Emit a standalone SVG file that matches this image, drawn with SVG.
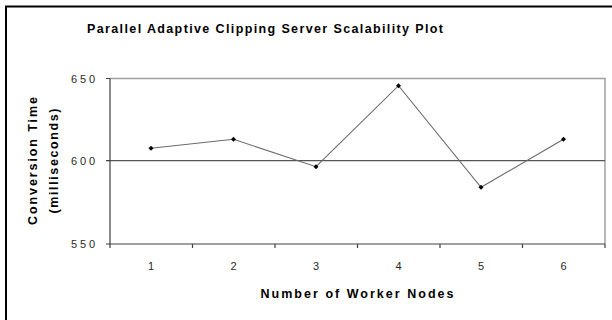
<svg xmlns="http://www.w3.org/2000/svg" width="612" height="320" viewBox="0 0 612 320">
  <style>
    .title { font-family: "Liberation Sans", Arial, sans-serif; font-weight: bold; font-size: 12.5px; fill: #000; }
    .tick { font-family: "Liberation Sans", Arial, sans-serif; font-size: 11px; fill: #2a2a2a; }
    .frame { fill: none; stroke: #000; stroke-width: 2; }
    .plotbox { fill: none; stroke: #a0a0a0; stroke-width: 1.5; }
    .axis { stroke: #404040; stroke-width: 1.2; fill: none; }
    .grid { stroke: #555; stroke-width: 1.2; }
    .series { fill: none; stroke: #6a6a6a; stroke-width: 1.1; }
  </style>
  <defs>
    <marker id="dot" viewBox="-3 -3 6 6" markerWidth="6" markerHeight="6" markerUnits="userSpaceOnUse" refX="0" refY="0">
      <path d="M0,-2.5 L2.5,0 L0,2.5 L-2.5,0 Z" fill="#000"/>
    </marker>
  </defs>
  <rect width="612" height="320" fill="#fff"/>

  <!-- chart frame (right and bottom edges fall outside the view) -->
  <path class="frame" d="M6,330 V6.5 H620"/>

  <!-- chart title -->
  <text class="title" x="265" y="33" text-anchor="middle" textLength="356" lengthAdjust="spacing">Parallel Adaptive Clipping Server Scalability Plot</text>

  <!-- plot area -->
  <g id="plot-area">
    <path class="plotbox" d="M110,78.5 H605 V244"/>
    <line class="grid" x1="110" y1="160.7" x2="605" y2="160.7"/>
  </g>

  <!-- axes with tick marks -->
  <g id="axes">
    <path class="axis" d="M110,78.5 V244 H605"/>
    <path class="axis" d="M106,78.5 H110 M106,160.7 H110 M106,244 H110"/>
    <path class="axis" d="M110,244 V248 M192.5,244 V248 M275,244 V248 M357.5,244 V248 M440,244 V248 M522.5,244 V248 M605,244 V248"/>
  </g>

  <!-- y tick labels -->
  <g id="y-labels">
    <text class="tick" x="71" y="82.5" textLength="24" lengthAdjust="spacing">650</text>
    <text class="tick" x="71" y="164.5" textLength="24" lengthAdjust="spacing">600</text>
    <text class="tick" x="71" y="248" textLength="24" lengthAdjust="spacing">550</text>
  </g>

  <!-- x tick labels -->
  <g id="x-labels">
    <text class="tick" x="151" y="269.5" text-anchor="middle">1</text>
    <text class="tick" x="233.5" y="269.5" text-anchor="middle">2</text>
    <text class="tick" x="316" y="269.5" text-anchor="middle">3</text>
    <text class="tick" x="398.5" y="269.5" text-anchor="middle">4</text>
    <text class="tick" x="481" y="269.5" text-anchor="middle">5</text>
    <text class="tick" x="563.5" y="269.5" text-anchor="middle">6</text>
  </g>

  <!-- axis titles -->
  <text class="title" x="357" y="297.5" text-anchor="middle" textLength="193" lengthAdjust="spacing">Number of Worker Nodes</text>
  <g transform="translate(37,161) rotate(-90)">
    <text class="title" x="0" y="0" text-anchor="middle" textLength="128" lengthAdjust="spacing">Conversion Time</text>
  </g>
  <g transform="translate(58,161) rotate(-90)">
    <text class="title" x="0" y="0" text-anchor="middle" textLength="105" lengthAdjust="spacing">(milliseconds)</text>
  </g>

  <!-- data series -->
  <g id="connectors">
    <polyline class="series" marker-start="url(#dot)" marker-mid="url(#dot)" marker-end="url(#dot)"
      points="151,148.3 233.5,139.3 316,166.7 398.5,85.7 481,187.3 563.5,139.3"/>
  </g>
</svg>
